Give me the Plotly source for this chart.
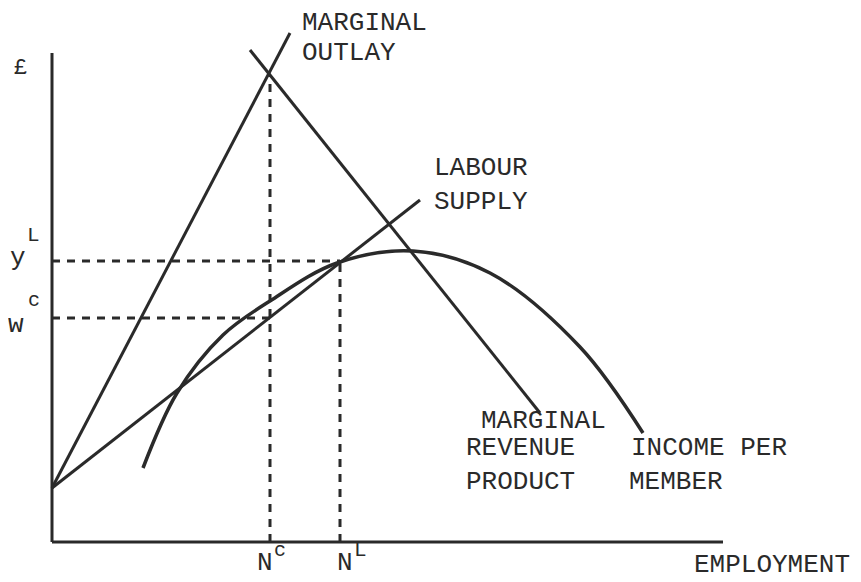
import plotly.graph_objects as go

# ---- data (diagram units: origin at the axes corner) ----
axis_y_top = 489
axis_x_end = 671

mo_x = [0, 238]          # marginal outlay
mo_y = [54, 509]
mrp_x = [198, 488]       # marginal revenue product
mrp_y = [492, 129]
ls_x = [0, 368]          # labour supply
ls_y = [54, 342]
ipm_x = [91, 125, 171, 218, 285, 361, 438, 528, 591]   # income per member
ipm_y = [74, 149, 207, 241, 279, 291, 269, 195, 109]

n_c = 218
n_l = 288
w_c = 224
y_l = 281
mo_top = 467

INK = "#2a2a2a"
FONT = "Courier New, Liberation Mono, monospace"

fig = go.Figure()

def line(x, y, dash="solid", width=3, shape="linear"):
    fig.add_trace(go.Scatter(x=x, y=y, mode="lines", hoverinfo="skip",
                             line=dict(color=INK, width=width, dash=dash, shape=shape,
                                       smoothing=1.0 if shape == "spline" else None),
                             showlegend=False))

# axes
line([0, 0], [0, axis_y_top], width=3)
line([0, axis_x_end], [0, 0], width=3)
# curves
line(mo_x, mo_y)
line(mrp_x, mrp_y)
line(ls_x, ls_y)
line(ipm_x, ipm_y, shape="spline", width=3.5)
# dashed guides
line([0, n_l], [y_l, y_l], dash="8px,7px")
line([0, n_c], [w_c, w_c], dash="8px,7px")
line([n_c, n_c], [0, mo_top], dash="8px,7px")
line([n_l, n_l], [0, y_l], dash="8px,7px")

def txt(x, y, s, size=26, anchor="left"):
    fig.add_annotation(x=x, y=y, text=s, showarrow=False, xanchor=anchor, yanchor="middle",
                       font=dict(family=FONT, size=size, color=INK))

# labels (positions in diagram units)
txt(248, 519, "MARGINAL")
txt(248, 489, "OUTLAY")
txt(380, 374, "LABOUR")
txt(380, 340, "SUPPLY")
txt(427, 121, "MARGINAL")
txt(412, 94, "REVENUE")
txt(412, 60, "PRODUCT")
txt(577, 94, "INCOME PER")
txt(575, 60, "MEMBER")
txt(640, -23, "EMPLOYMENT")
txt(-32, 474, "£", size=22, anchor="center")
txt(-34, 284, "y", size=26, anchor="center")
txt(-19, 307, "L", size=21, anchor="center")
txt(-36, 217, "w", size=26, anchor="center")
txt(-18, 242, "c", size=20, anchor="center")
txt(213, -21, "N", size=26, anchor="center")
txt(228, -8, "c", size=20, anchor="center")
txt(293, -21, "N", size=26, anchor="center")
txt(308, -8, "L", size=21, anchor="center")

# the page body adds an 8px offset; size/ranges keep 1 unit = 1 px with the
# origin at page pixel (52, 542)
fig.update_layout(
    width=853, height=574,
    margin=dict(l=0, r=0, t=0, b=0),
    paper_bgcolor="white", plot_bgcolor="white",
    xaxis=dict(range=[-44, 809], visible=False, fixedrange=True),
    yaxis=dict(range=[-40, 534], visible=False, fixedrange=True),
)

fig.write_html("out.html")
